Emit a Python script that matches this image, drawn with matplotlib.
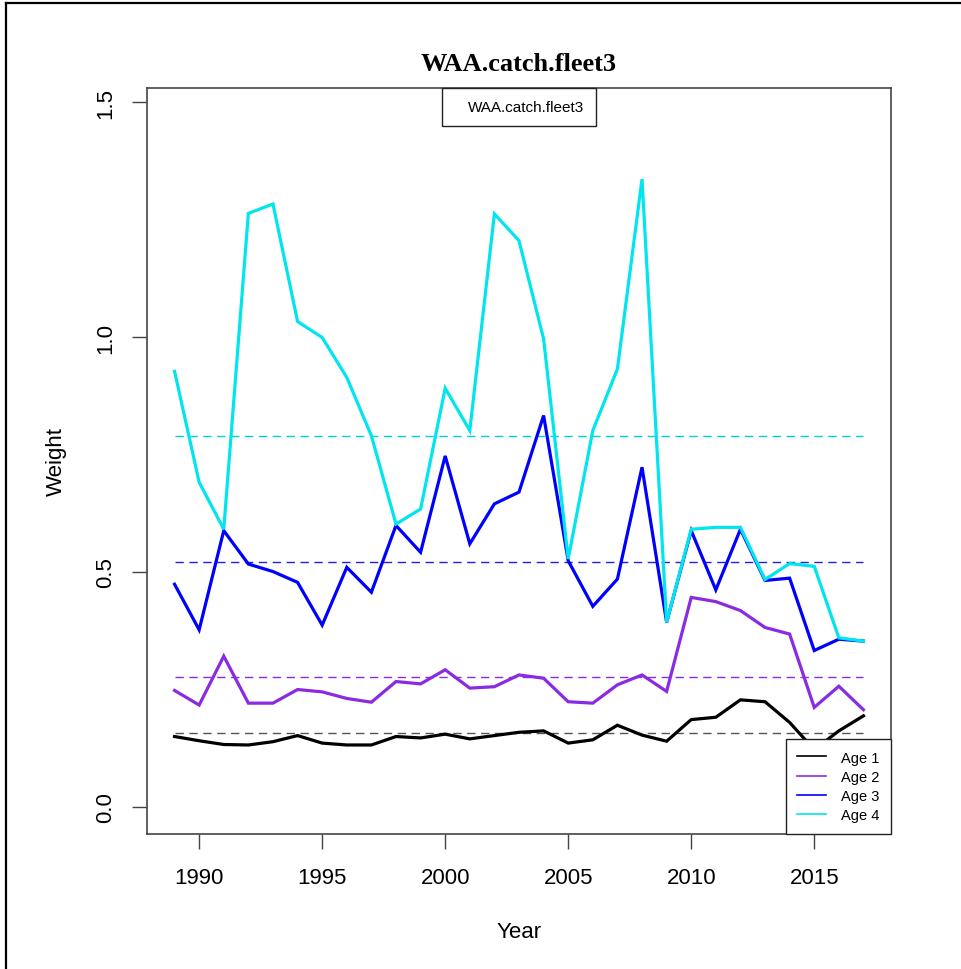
import numpy as np
import matplotlib
matplotlib.use("Agg")
import matplotlib.pyplot as plt
from matplotlib.lines import Line2D

years = list(range(1989, 2018))
age1 = [0.150, 0.141, 0.133, 0.132, 0.139, 0.152, 0.136, 0.132, 0.132, 0.150,
        0.147, 0.155, 0.145, 0.152, 0.159, 0.162, 0.136, 0.143, 0.174, 0.153,
        0.140, 0.186, 0.191, 0.228, 0.224, 0.180, 0.122, 0.162, 0.194]
age2 = [0.248, 0.217, 0.321, 0.221, 0.221, 0.250, 0.245, 0.231, 0.223, 0.267,
        0.262, 0.292, 0.253, 0.256, 0.281, 0.274, 0.224, 0.221, 0.260, 0.281,
        0.246, 0.446, 0.437, 0.418, 0.382, 0.368, 0.212, 0.257, 0.207]
age3 = [0.474, 0.377, 0.588, 0.517, 0.501, 0.478, 0.387, 0.510, 0.457, 0.599,
        0.542, 0.747, 0.560, 0.645, 0.670, 0.833, 0.524, 0.427, 0.485, 0.723,
        0.393, 0.588, 0.462, 0.591, 0.482, 0.487, 0.333, 0.357, 0.353]
age4 = [0.927, 0.691, 0.591, 1.263, 1.283, 1.033, 0.999, 0.914, 0.790, 0.602,
        0.634, 0.891, 0.801, 1.262, 1.205, 0.996, 0.528, 0.801, 0.932, 1.336,
        0.393, 0.591, 0.595, 0.595, 0.484, 0.518, 0.512, 0.360, 0.353]
labels = ["Age 1", "Age 2", "Age 3", "Age 4"]
colors = ["#000000", "#8A2BE2", "#0000FF", "#00E5EE"]
mean_colors = ["#555555", "#8A2BE2", "#2222DD", "#00D0DD"]
xticks = [1990, 1995, 2000, 2005, 2010, 2015]
yticks = [0.0, 0.5, 1.0, 1.5]

sans = ["Liberation Sans", "DejaVu Sans"]
W, H = 961, 970
fig = plt.figure(figsize=(W / 100, H / 100), dpi=100)
ax = fig.add_axes([147 / W, 1 - 835 / H, (891 - 147) / W, (835 - 89) / H])

series = [age1, age2, age3, age4]
for s, c, mc in zip(series, colors, mean_colors):
    m = np.mean(s)
    ax.plot([years[0], years[-1]], [m, m], color=mc, lw=1.0, ls=(0, (6, 4)))
handles = []
for s, c, lab in zip(series, colors, labels):
    ax.plot(years, s, color=c, lw=2.3, solid_joinstyle="miter")
    handles.append(Line2D([], [], color=c, lw=1.2, label=lab))

ax.set_xlim(1987.88, 2018.12)
ax.set_ylim(-0.0574, 1.5298)
ax.set_xticks(xticks)
ax.set_yticks(yticks)
ax.set_xticklabels([str(t) for t in xticks], fontfamily=sans, fontsize=16)
ax.set_yticklabels([f"{t:.1f}" for t in yticks], fontfamily=sans, fontsize=16,
                   rotation=90, va="center")
ax.tick_params(axis="both", length=10.5, width=1.0, color="#444444")
ax.tick_params(axis="x", pad=13)
ax.tick_params(axis="y", pad=11.5)
for sp in ax.spines.values():
    sp.set_color("#444444")
    sp.set_linewidth(1.2)

ax.set_xlabel("Year", fontfamily=sans, fontsize=16)
ax.set_ylabel("Weight", fontfamily=sans, fontsize=16)
ax.xaxis.set_label_coords(0.5, -(922 - 835) / 746)
ax.yaxis.set_label_coords(-(147 - 67) / 744, 0.5)
ax.set_title("WAA.catch.fleet3", fontfamily=["Liberation Serif", "DejaVu Serif"],
             fontweight="bold", fontsize=19, pad=13)

leg1 = ax.legend(handles=handles, loc="lower right", borderaxespad=0,
                 fancybox=False, edgecolor="#222222", framealpha=1,
                 prop={"family": sans, "size": 10.5}, handlelength=2.0,
                 labelspacing=0.36, borderpad=0.8, handletextpad=1.0)
leg1.get_frame().set_linewidth(1.0)
ax.add_artist(leg1)

leg2 = ax.legend(handles=[Line2D([], [], color="none", label="WAA.catch.fleet3")],
                 loc="upper center", borderaxespad=0, fancybox=False,
                 edgecolor="#222222", framealpha=1,
                 prop={"family": sans, "size": 11}, handlelength=0.3,
                 borderpad=0.8, handletextpad=0.6)
leg2.get_frame().set_linewidth(1.0)

fig.add_artist(Line2D([6 / W, 6 / W], [0, 1 - 4 / H], color="black", lw=1.6,
                      transform=fig.transFigure))
fig.add_artist(Line2D([6 / W, 1], [1 - 4 / H, 1 - 4 / H], color="black", lw=1.6,
                      transform=fig.transFigure))

fig.savefig("out.png", dpi=100)
